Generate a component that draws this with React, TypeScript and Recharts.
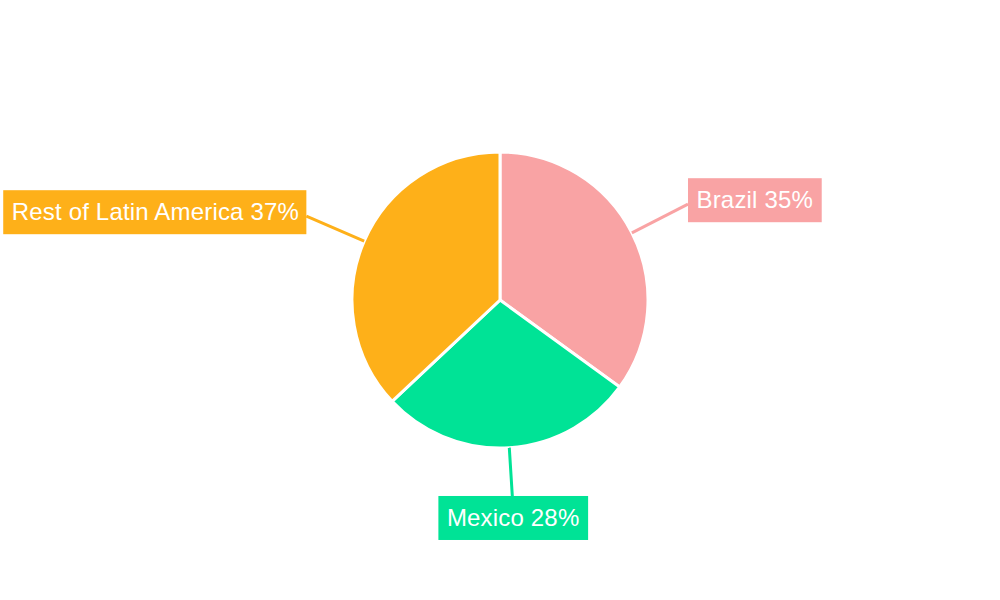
import React from "react";
import { PieChart, Pie, Cell } from "recharts";

const categories = ["Brazil", "Mexico", "Rest of Latin America"];
const shares = [35, 28, 37];
const colors = ["#F9A3A4", "#00E396", "#FEB019"];

const data = categories.map((name, i) => ({ name, value: shares[i] }));

const RAD = Math.PI / 180;
const FONT = '24px "Liberation Sans", Arial, sans-serif';

let ctx: CanvasRenderingContext2D | null = null;
function measure(text: string): number {
  if (!ctx) {
    const c = document.createElement("canvas");
    ctx = c.getContext("2d");
  }
  if (ctx) {
    ctx.font = FONT;
    return ctx.measureText(text).width;
  }
  return text.length * 12;
}

const renderLabel = (props: any) => {
  const { cx, cy, midAngle, outerRadius, percent, name, index } = props;
  const color = colors[index % colors.length];
  const cos = Math.cos(-midAngle * RAD);
  const sin = Math.sin(-midAngle * RAD);
  const sx = cx + outerRadius * cos;
  const sy = cy + outerRadius * sin;
  const er = outerRadius + 63;
  const ex = cx + er * cos;
  const ey = cy + er * sin;
  const text = `${name} ${Math.round(percent * 100)}%`;
  const w = measure(text);
  const boxW = w + 19;
  const boxH = 44;
  let bx: number;
  let by: number;
  if (Math.abs(cos) < 0.3) {
    bx = ex - boxW / 2;
    by = sin > 0 ? ey - 14.6 : ey - boxH + 14.6;
  } else if (cos > 0) {
    bx = ex;
    by = ey - 4 - boxH / 2;
  } else {
    bx = ex - boxW;
    by = ey - 4 - boxH / 2;
  }
  return (
    <g>
      <line x1={sx} y1={sy} x2={ex} y2={ey} stroke={color} strokeWidth={3} />
      <rect x={bx} y={by} width={boxW} height={boxH} fill={color} />
      <text
        x={bx + 8.5}
        y={by + boxH / 2 + 8}
        fill="#ffffff"
        fontSize={24}
        letterSpacing={0.18}
        fontFamily='"Liberation Sans", Arial, sans-serif'
        textAnchor="start"
      >
        {text}
      </text>
    </g>
  );
};

export default function App() {
  return (
    <div style={{ position: "absolute", left: 0, top: 0, width: 1000, height: 600, background: "#fff" }}>
      <PieChart width={1000} height={600} margin={{ top: 0, right: 0, bottom: 0, left: 0 }}>
        <Pie
          data={data}
          dataKey="value"
          nameKey="name"
          cx={500}
          cy={300}
          outerRadius={148}
          startAngle={90}
          endAngle={-270}
          stroke="#ffffff"
          strokeWidth={3}
          label={renderLabel}
          labelLine={false}
          isAnimationActive={false}
        >
          {data.map((d, i) => (
            <Cell key={d.name} fill={colors[i]} />
          ))}
        </Pie>
      </PieChart>
    </div>
  );
}
